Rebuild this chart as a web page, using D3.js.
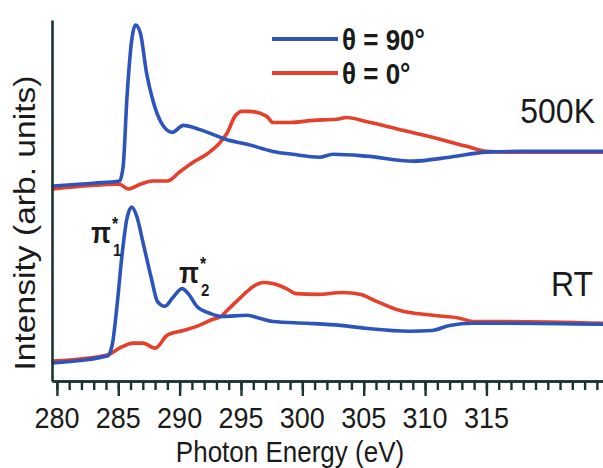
<!DOCTYPE html>
<html><head><meta charset="utf-8">
<script src="https://cdn.jsdelivr.net/npm/d3@7"></script>
<style>
html,body{margin:0;padding:0;background:#fff;}
text{font-family:"Liberation Sans",Arial,Helvetica,sans-serif;fill:#1a1a1a;}
</style></head>
<body>
<svg id="chart" width="603" height="468"></svg>
<script>
// Photon energy (eV) and intensity (arb. units, 0-100 plot scale)
const hot90E = [279.7,283.0,285.1,285.4,285.7,286.1,286.4,286.8,287.3,287.8,288.5,289.4,290.3,291.6,292.7,293.8,295.5,297.6,299.2,301.4,302.5,305.2,309.0,312.0,315.0,317.5,324.5];
const hot90I = [54.0,54.8,55.4,59.5,78.0,94.5,98.6,96.4,85.4,78.0,71.6,68.9,70.8,69.7,68.3,66.9,65.6,63.6,62.8,62.0,62.8,62.3,60.9,62.0,63.4,63.6,63.6];
const hot0E = [279.7,285.1,285.8,286.8,287.8,289.0,290.0,291.1,292.2,293.3,293.9,294.5,295.1,295.7,297.1,297.6,299.0,300.9,302.8,303.6,305.2,307.9,310.6,313.4,315.0,316.6,324.5];
const hot0I = [53.2,54.5,53.2,54.5,55.4,55.4,57.9,60.6,62.8,66.1,68.9,73.3,74.7,74.7,73.3,71.6,71.6,72.2,72.5,73.0,71.9,69.7,67.5,65.0,63.6,63.4,63.4];
const rt90E = [279.7,284.1,284.5,284.9,285.3,285.7,286.1,286.5,287.0,287.7,288.2,288.8,289.4,290.2,290.7,291.4,292.5,293.4,295.5,296.5,297.6,300.4,303.1,305.2,308.7,310.6,312.0,313.9,316.1,324.5];
const rt90I = [5.0,6.9,9.9,20.9,34.7,44.9,48.2,45.7,38.6,28.4,22.0,20.7,22.9,25.6,24.2,20.7,18.7,17.9,18.2,17.4,16.5,16.0,15.4,14.6,13.8,14.0,15.4,16.0,16.0,15.7];
const rt0E = [279.7,284.1,285.1,286.2,287.0,288.0,289.0,290.3,291.6,292.7,293.4,293.8,294.9,296.0,296.8,297.6,298.7,299.5,301.2,303.3,304.7,306.1,307.9,310.6,312.8,313.9,316.1,324.5];
const rt0I = [5.5,7.2,9.1,10.5,10.5,9.1,12.7,14.0,15.4,17.1,17.9,19.3,22.9,26.2,27.3,27.0,25.6,24.2,24.0,24.5,24.0,22.0,19.6,18.2,17.4,16.5,16.5,16.0];
const majorTicks = [280,285,290,295,300,305,310,315];
const legendLabels = ["θ = 90°","θ = 0°"];
const tempLabels = ["500K","RT"];

const BLUE = "#2c54bb", RED = "#e4402c", AX = "#1c3333";
const svg = d3.select("#chart");
const x = d3.scaleLinear().domain([279.6,324.5]).range([52,603]);
const y = d3.scaleLinear().domain([0,100]).range([381,20]);
const SY = 1.12; // vertical stretch of text in the figure

const line = d3.line().x(d=>x(d[0])).y(d=>y(d[1])).curve(d3.curveMonotoneX);
const zip = (a,b)=>a.map((v,i)=>[v,b[i]]);
const series = [
  {d:zip(hot0E,hot0I),c:RED},{d:zip(hot90E,hot90I),c:BLUE},
  {d:zip(rt0E,rt0I),c:RED},{d:zip(rt90E,rt90I),c:BLUE}
];
svg.append("g").selectAll("path").data(series).join("path")
  .attr("d",s=>line(s.d)).attr("fill","none").attr("stroke",s=>s.c)
  .attr("stroke-width",3.6).attr("stroke-linejoin","round").attr("stroke-linecap","round");

// x axis: minor and major ticks
const minor = d3.range(280,325);
const gMin = svg.append("g").attr("transform",`translate(0,${y(0)})`)
  .call(d3.axisBottom(x).tickValues(minor).tickSize(9).tickFormat("").tickSizeOuter(0));
const gMaj = svg.append("g").attr("transform",`translate(0,${y(0)})`)
  .call(d3.axisBottom(x).tickValues(majorTicks).tickSize(15).tickFormat("").tickSizeOuter(0));
[gMin,gMaj].forEach(g=>{
  g.select(".domain").attr("stroke",AX).attr("stroke-width",2.6);
  g.selectAll(".tick line").attr("stroke",AX).attr("stroke-width",2.4);
});
svg.append("g").selectAll("text").data(majorTicks).join("text")
  .attr("transform",d=>`translate(${x(d)},428) scale(1,${SY})`)
  .attr("text-anchor","middle").attr("font-size",27).text(d=>d);

// y axis line (no ticks)
svg.append("g").attr("transform","translate(52,0)")
  .call(d3.axisLeft(y).tickValues([]).tickSizeOuter(0))
  .select(".domain").attr("stroke",AX).attr("stroke-width",2.6);

// axis titles
svg.append("text").attr("transform",`translate(290,462) scale(1,${SY})`)
  .attr("text-anchor","middle").attr("font-size",26).text("Photon Energy (eV)");
svg.append("text").attr("transform",`translate(35,223) rotate(-90) scale(${SY},1)`)
  .attr("text-anchor","middle").attr("font-size",30).text("Intensity (arb. units)");

// legend
const leg = svg.append("g");
[BLUE,RED].forEach((c,i)=>{
  const yy = [39,73][i];
  leg.append("line").attr("x1",272).attr("x2",338).attr("y1",yy).attr("y2",yy)
    .attr("stroke",c).attr("stroke-width",4);
  leg.append("text").attr("transform",`translate(342,${yy+11}) scale(1,${SY})`)
    .attr("font-size",26).attr("font-weight","bold").text(legendLabels[i]);
});

// temperature labels
svg.append("text").attr("transform",`translate(595,123) scale(1,${SY})`)
  .attr("text-anchor","end").attr("font-size",32).text(tempLabels[0]);
svg.append("text").attr("transform",`translate(593,296) scale(1,${SY})`)
  .attr("text-anchor","end").attr("font-size",32).text(tempLabels[1]);

// peak labels
function piLabel(px,py,sub){
  const g = svg.append("g").attr("transform",`translate(${px},${py}) scale(1,${SY})`);
  const t = g.append("text").attr("font-size",26).attr("font-weight","bold").text("π");
  const w = t.node().getComputedTextLength();
  g.append("text").attr("x",w+2).attr("y",12).attr("font-size",15).attr("font-weight","bold").text(sub);
  g.append("text").attr("x",w+1).attr("y",-12).attr("font-size",16).attr("font-weight","bold").text("*");
}
piLabel(91,243,"1");
piLabel(179,283,"2");
</script>
</body></html>
